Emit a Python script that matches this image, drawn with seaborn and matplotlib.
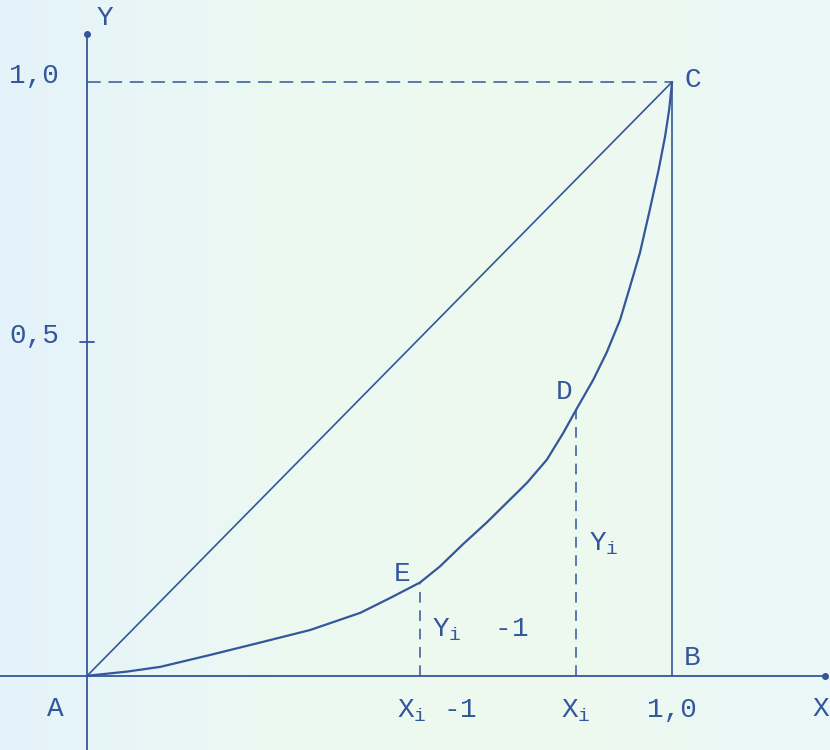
import numpy as np
import pandas as pd
import matplotlib
matplotlib.use("Agg")
import matplotlib.pyplot as plt
import seaborn as sns

# Lorenz curve A -> E -> D -> C
curve_x = [0.0, 0.068, 0.125, 0.210, 0.296, 0.381, 0.467, 0.518, 0.569, 0.603, 0.643, 0.683,
           0.717, 0.752, 0.786, 0.814, 0.836, 0.865, 0.888, 0.911, 0.928, 0.945, 0.962,
           0.977, 0.988, 0.995, 1.0]
curve_y = [0.0, 0.007, 0.015, 0.035, 0.056, 0.077, 0.106, 0.131, 0.157, 0.184, 0.222, 0.258,
           0.291, 0.325, 0.364, 0.409, 0.448, 0.498, 0.544, 0.599, 0.655, 0.712, 0.785,
           0.852, 0.908, 0.953, 1.0]

# points E and D on the curve
e_x, e_y = 0.569, 0.157
d_x, d_y = 0.836, 0.448

# y tick labels (drawing is not to scale)
ytick_vals = [0.562, 1.0]
ytick_labels = ["0,5", "1,0"]
xtick_vals = [e_x, d_x, 1.0]
xtick_labels = ["X$_\\mathrm{i}$ -1", "X$_\\mathrm{i}$", "1,0"]

INK = "#34569a"
BG = "#e9f6f7"

sns.set_theme(style="white")
plt.rcParams["font.family"] = ["Liberation Mono", "DejaVu Sans Mono"]
plt.rcParams["mathtext.fontset"] = "custom"
plt.rcParams["mathtext.rm"] = "Liberation Mono"

fig = plt.figure(figsize=(8.3, 7.5), dpi=100)
fig.patch.set_facecolor(BG)
ax = fig.add_axes([0, 0, 1, 1])
ax.set_facecolor(BG)

# faint left-to-right tint like the scanned page
grad = np.linspace(0, 1, 256).reshape(1, -1)
cmap = matplotlib.colors.LinearSegmentedColormap.from_list("bg", ["#e4f3fb", "#ecf9f2", "#eef9ee", "#e9f7f8"])
ax.imshow(grad, extent=[-0.149, 1.27, -0.125, 1.138], aspect="auto", cmap=cmap, zorder=0)

# axes lines
ax.plot([-0.149, 1.262], [0, 0], color=INK, lw=1.3, zorder=2)
ax.plot([0, 0], [-0.125, 1.08], color=INK, lw=1.3, zorder=2)
ax.plot([1.262], [0], "o", color=INK, ms=4, zorder=3)
ax.plot([0], [1.08], "o", color=INK, ms=4, zorder=3)
ax.plot([-0.012, 0.012], [ytick_vals[0], ytick_vals[0]], color=INK, lw=1.3)

# equality line, Lorenz curve and the box
df = pd.DataFrame({"x": curve_x, "y": curve_y})
sns.lineplot(data=df, x="x", y="y", ax=ax, color=INK, lw=1.6, sort=False, zorder=3)
sns.lineplot(x=[0, 1], y=[0, 1], ax=ax, color=INK, lw=1.2, zorder=3)
ax.plot([1, 1], [0, 1], color=INK, lw=1.2, zorder=3)
ax.plot([0, 1], [1, 1], color=INK, lw=1.1, ls=(0, (9, 5)), zorder=3)
ax.plot([e_x, e_x], [0, e_y], color=INK, lw=1.1, ls=(0, (7, 5)), zorder=3)
ax.plot([d_x, d_x], [0, d_y], color=INK, lw=1.1, ls=(0, (7, 5)), zorder=3)

fs = 20
for v, lab in zip(ytick_vals, ytick_labels):
    ax.text(-0.048, v + 0.01, lab, color=INK, fontsize=fs, ha="right", va="center")
for v, lab in zip(xtick_vals, xtick_labels):
    ha = "left" if lab.endswith("-1") else "center"
    xx = v - 0.04 if ha == "left" else v
    ax.text(xx, -0.058, lab, color=INK, fontsize=fs, ha=ha, va="center")

ax.text(-0.055, -0.056, "A", color=INK, fontsize=fs, ha="center", va="center")
ax.text(1.255, -0.056, "X", color=INK, fontsize=fs, ha="center", va="center")
ax.text(0.03, 1.108, "Y", color=INK, fontsize=fs, ha="center", va="center")
ax.text(1.035, 1.003, "C", color=INK, fontsize=fs, ha="center", va="center")
ax.text(1.035, 0.03, "B", color=INK, fontsize=fs, ha="center", va="center")
ax.text(d_x - 0.02, d_y + 0.03, "D", color=INK, fontsize=fs, ha="center", va="center")
ax.text(e_x - 0.03, e_y + 0.015, "E", color=INK, fontsize=fs, ha="center", va="center")
ax.text(d_x + 0.022, 0.222, "Y$_\\mathrm{i}$", color=INK, fontsize=fs, ha="left", va="center")
ax.text(e_x + 0.02, 0.077, "Y$_\\mathrm{i}$  -1", color=INK, fontsize=fs, ha="left", va="center")

ax.set_xlim(-0.149, 1.27)
ax.set_ylim(-0.125, 1.138)
ax.set_axis_off()

fig.savefig("out.png", dpi=100, facecolor=BG)
